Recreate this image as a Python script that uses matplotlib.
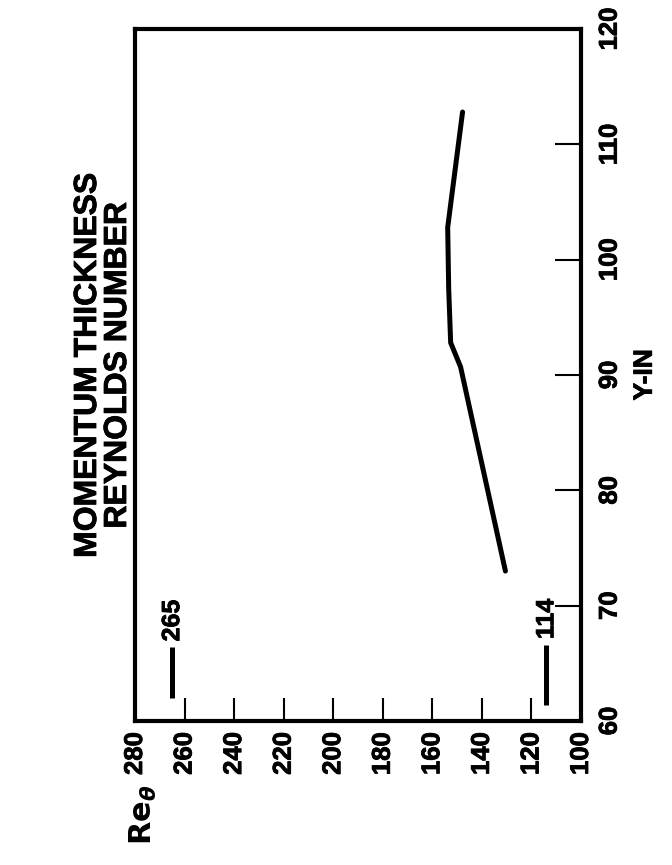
import matplotlib
matplotlib.use("Agg")
import matplotlib.pyplot as plt
import matplotlib.patheffects as pe

plt.rcParams['font.family'] = ['Liberation Sans', 'DejaVu Sans']
plt.rcParams['font.weight'] = 'bold'

# Data (chart is printed rotated 90 degrees: Re on horizontal, Y-IN on vertical)
y_in = [73.0, 90.7, 92.8, 97.5, 102.8, 112.8]
re_theta = [130.5, 148.6, 152.6, 153.4, 153.8, 147.8]

re_ticks = [280, 260, 240, 220, 200, 180, 160, 140, 120, 100]
y_ticks = [60, 70, 80, 90, 100, 110, 120]

ref_values = [265, 114]
ref_labels = ["265", "114"]
ref_y_low = [62.0, 61.4]
ref_y_high = [66.4, 66.6]

heavy = [pe.withStroke(linewidth=0.6, foreground='black')]

fig = plt.figure(figsize=(6.72, 8.65), dpi=100)
ax = fig.add_axes([135/672, 1-721/865, (581-135)/672, (721-29)/865])

ax.plot(re_theta, y_in, color='black', lw=3.6, solid_capstyle='round', solid_joinstyle='round')
for v, lab, lo, hi in zip(ref_values, ref_labels, ref_y_low, ref_y_high):
    ax.plot([v, v], [lo, hi], color='black', lw=3.6, solid_capstyle='butt')
    ax.text(v, hi + 0.5, lab, rotation=90, ha='center', va='bottom',
            fontsize=18, fontweight='bold', path_effects=heavy)

ax.set_xlim(280, 100)
ax.set_ylim(60, 120)
ax.set_xticks(re_ticks)
ax.set_xticklabels([str(t) for t in re_ticks], rotation=90, fontsize=18.5, fontweight='bold')
ax.set_yticks(y_ticks)
ax.yaxis.tick_right()
ax.set_yticklabels([str(t) for t in y_ticks], rotation=90, fontsize=18.5, fontweight='bold',
                   va='center')
for lab in ax.get_xticklabels() + ax.get_yticklabels():
    lab.set_path_effects(heavy)
ax.tick_params(axis='x', direction='in', length=16.5, width=1.5, pad=8, top=False)
ax.tick_params(axis='y', direction='in', length=19, width=1.5, pad=12, left=False, right=True)
for s in ax.spines.values():
    s.set_linewidth(3)

ax.yaxis.set_label_position('right')
ax.set_ylabel('Y-IN', rotation=90, fontsize=19, fontweight='bold', labelpad=8,
              path_effects=heavy)

fig.text(143/672, 1-815/865, r'$\mathbf{Re}_{\theta}$', rotation=90, ha='center', va='center',
         fontsize=22)

fig.text(103/672, 1-365/865, "MOMENTUM THICKNESS\nREYNOLDS NUMBER", rotation=90,
         ha='center', va='center', fontsize=23, fontweight='bold', linespacing=1.0,
         multialignment='center', path_effects=heavy)

fig.savefig('out.png', dpi=100)
